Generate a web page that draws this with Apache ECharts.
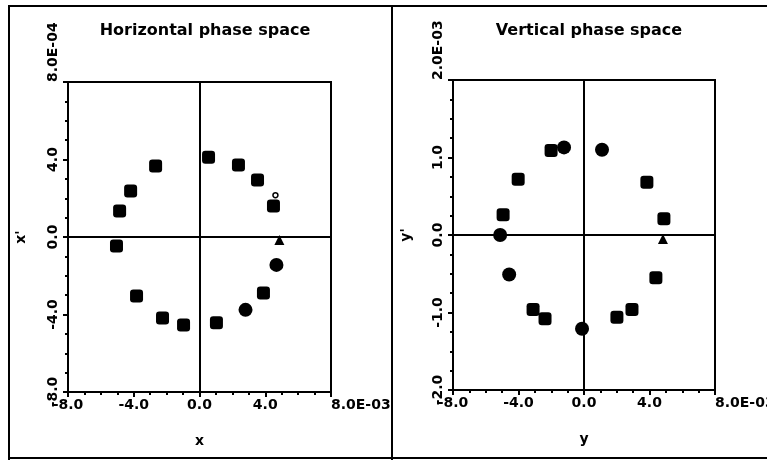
<!DOCTYPE html>
<html>
<head>
<meta charset="utf-8">
<script src="https://cdn.jsdelivr.net/npm/echarts@6/dist/echarts.min.js"></script>
<style>
  html, body { margin: 0; padding: 0; background: #fff; }
  #main { width: 767px; height: 460px; }
</style>
</head>
<body>
<div id="main"></div>
<script>
// horizontal phase space: x (units of 1E-03) vs x' (units of 1E-04)
var hSquares = [
  [-2.67, 3.66], [-4.19, 2.37], [-4.86, 1.34], [0.55, 4.12], [2.37, 3.71],
  [3.53, 2.94], [4.50, 1.60], [-5.05, -0.46], [-3.83, -3.04], [-2.25, -4.18],
  [-0.97, -4.54], [1.03, -4.43], [3.89, -2.89]
];
var hCircles = [[2.80, -3.76], [4.68, -1.44]];
var hTriangles = [[4.86, -0.15]];
var hSmall = [[4.62, 2.16]];

// vertical phase space: y (units of 1E-03) vs y' (units of 1E-03)
var vSquares = [
  [-2.01, 1.09], [-4.02, 0.72], [3.84, 0.68], [-4.94, 0.26], [4.88, 0.21],
  [-3.11, -0.96], [-2.38, -1.08], [2.01, -1.06], [2.93, -0.96], [4.39, -0.55]
];
var vCircles = [[-1.22, 1.13], [1.10, 1.10], [-5.12, 0.0], [-4.57, -0.51], [-0.12, -1.21]];
var vTriangles = [[4.82, -0.05]];

var titles = ['Horizontal phase space', 'Vertical phase space'];
var xNames = ['x', 'y'];
var yNames = ["x'", "y'"];
var xTop = '8.0E-03';
var yTops = ['8.0E-04', '2.0E-03'];

var font = 'DejaVu Sans';
var chart = echarts.init(document.getElementById('main'));

function xAxisFor(i) {
  return {
    gridIndex: i, type: 'value', min: -8, max: 8, interval: 4,
    name: xNames[i], nameLocation: 'middle', nameGap: 42,
    nameTextStyle: { color: '#000', fontFamily: font, fontWeight: 'bold', fontSize: 14 },
    axisLine: { show: true, onZero: false, lineStyle: { color: '#000', width: 2 } },
    axisTick: { show: true, length: 5, lineStyle: { color: '#000', width: 2 } },
    minorTick: { show: true, splitNumber: 4, length: 3, lineStyle: { color: '#000', width: 2 } },
    splitLine: { show: false },
    axisLabel: {
      color: '#000', fontFamily: font, fontWeight: 'bold', fontSize: 14, margin: 6,
      alignMaxLabel: 'left',
      formatter: function (v) { return v === 8 ? xTop : v.toFixed(1); }
    }
  };
}

function yAxisFor(i, max, step) {
  return {
    gridIndex: i, type: 'value', min: -max, max: max, interval: step,
    name: yNames[i], nameLocation: 'middle', nameGap: 40, nameRotate: 90,
    nameTextStyle: { color: '#000', fontFamily: font, fontWeight: 'bold', fontSize: 14 },
    axisLine: { show: true, onZero: false, lineStyle: { color: '#000', width: 2 } },
    axisTick: { show: true, length: 5, lineStyle: { color: '#000', width: 2 } },
    minorTick: { show: true, splitNumber: 4, length: 3, lineStyle: { color: '#000', width: 2 } },
    splitLine: { show: false },
    axisLabel: {
      color: '#000', fontFamily: font, fontWeight: 'bold', fontSize: 14, margin: 8,
      rotate: 90, alignMaxLabel: 'left',
      formatter: function (v) { return v === max ? yTops[i] : v.toFixed(1); }
    }
  };
}

function scatter(i, data, symbol, size, hollow) {
  return {
    type: 'scatter', xAxisIndex: i, yAxisIndex: i, data: data,
    symbol: symbol, symbolSize: size,
    itemStyle: hollow
      ? { color: '#fff', borderColor: '#000', borderWidth: 1.5, opacity: 1 }
      : { color: '#000', opacity: 1 }
  };
}

function crossLines(i) {
  return {
    type: 'scatter', xAxisIndex: i, yAxisIndex: i, data: [],
    markLine: {
      silent: true, symbol: 'none', label: { show: false },
      lineStyle: { color: '#000', width: 2, type: 'solid' },
      data: [{ xAxis: 0 }, { yAxis: 0 }]
    }
  };
}

chart.setOption({
  backgroundColor: '#fff',
  animation: false,
  title: [
    { text: titles[0], left: 200, top: 18, textAlign: 'center',
      textStyle: { color: '#000', fontFamily: font, fontWeight: 'bold', fontSize: 16 } },
    { text: titles[1], left: 584, top: 18, textAlign: 'center',
      textStyle: { color: '#000', fontFamily: font, fontWeight: 'bold', fontSize: 16 } }
  ],
  grid: [
    { left: 68, right: 436, top: 82, bottom: 68, show: true, borderColor: '#000', borderWidth: 2,
      outerBoundsMode: 'none', containLabel: false },
    { left: 453, right: 52, top: 80, bottom: 70, show: true, borderColor: '#000', borderWidth: 2,
      outerBoundsMode: 'none', containLabel: false }
  ],
  xAxis: [xAxisFor(0), xAxisFor(1)],
  yAxis: [yAxisFor(0, 8, 4), yAxisFor(1, 2, 1)],
  graphic: [
    { type: 'rect', shape: { x: 8, y: 5, width: 2, height: 455 }, style: { fill: '#000' } },
    { type: 'rect', shape: { x: 8, y: 5, width: 759, height: 2 }, style: { fill: '#000' } },
    { type: 'rect', shape: { x: 391, y: 5, width: 2, height: 455 }, style: { fill: '#000' } },
    { type: 'rect', shape: { x: 8, y: 457, width: 759, height: 2 }, style: { fill: '#000' } }
  ],
  series: [
    crossLines(0),
    scatter(0, hSquares, 'roundRect', 13),
    scatter(0, hCircles, 'circle', 14),
    scatter(0, hTriangles, 'triangle', 10),
    scatter(0, hSmall, 'circle', 5, true),
    crossLines(1),
    scatter(1, vSquares, 'roundRect', 13),
    scatter(1, vCircles, 'circle', 14),
    scatter(1, vTriangles, 'triangle', 10)
  ]
});
</script>
</body>
</html>
